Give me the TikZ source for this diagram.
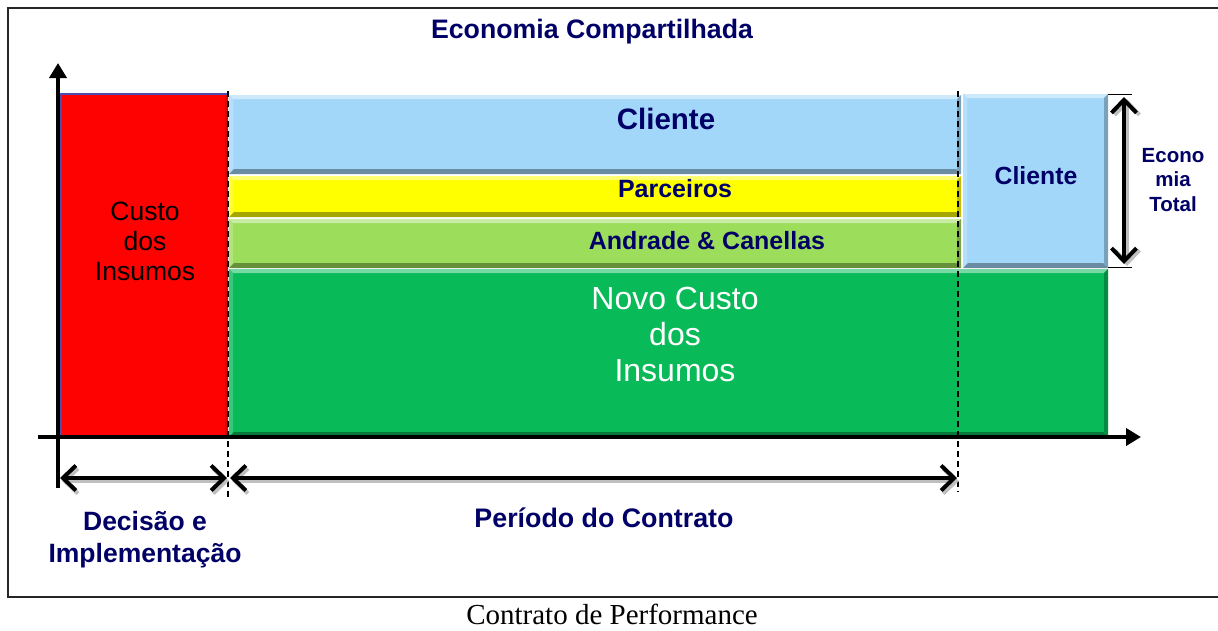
\documentclass[tikz,border=0pt]{standalone}
\usepackage{fontspec}
\setmainfont{Liberation Sans}
\newfontfamily\capserif{Liberation Serif}
\usetikzlibrary{arrows.meta,calc}
\definecolor{navy}{RGB}{0,0,102}
\definecolor{cred}{RGB}{254,2,2}
\definecolor{cblue}{RGB}{163,215,250}
\definecolor{cyellow}{RGB}{255,255,0}
\definecolor{clgreen}{RGB}{157,221,92}
\definecolor{cdgreen}{RGB}{8,186,88}
\newcommand\bevelbox[2]{%
  \fill[#2!55!white] (#1.north west) -- (#1.north east) -- ([shift={(-4,4)}]#1.north east) -- ([shift={(4,4)}]#1.north west) -- cycle;
  \fill[#2!65!black] (#1.south west) -- (#1.south east) -- ([shift={(-5,-5)}]#1.south east) -- ([shift={(5,-5)}]#1.south west) -- cycle;
  \fill[#2!80!white] (#1.north west) -- ([shift={(4,4)}]#1.north west) -- ([shift={(4,-5)}]#1.south west) -- (#1.south west) -- cycle;
  \fill[#2!75!black] (#1.north east) -- ([shift={(-4,4)}]#1.north east) -- ([shift={(-4,-5)}]#1.south east) -- (#1.south east) -- cycle;
}
\tikzset{
  bar/.style={rectangle, inner sep=0pt, outer sep=0pt, anchor=north west},
  blab/.style={text=navy, font=\bfseries\fontsize{#1}{#1}\selectfont, align=center, inner sep=0pt},
  blab/.default=25,
  barbs/.style={{Straight Barb[length=13pt,width=25pt]}-{Straight Barb[length=13pt,width=25pt]}},
  thickarrow/.style={line width=4pt, barbs},
  arrowshadow/.style={line width=4pt, barbs, draw=gray!50},
  dashline/.style={line width=1.4pt, dash pattern=on 6pt off 4pt},
}
\begin{document}
\begin{tikzpicture}[x=1pt,y=-1pt]
\useasboundingbox (0,0) rectangle (1218,630);
\fill[white] (0,0) rectangle (1218,630);
% frame
\draw[line width=2pt, black!85] (8,8) rectangle (1226,597);

% bars
\node[bar, fill=cred, minimum width=167, minimum height=343] (red) at (61,94) {};
\node[bar, fill=cblue, minimum width=732, minimum height=79] (cliTop) at (229,95) {};
\node[bar, fill=cyellow, minimum width=732, minimum height=41] (parc) at (229,176) {};
\node[bar, fill=clgreen, minimum width=732, minimum height=49] (andr) at (229,219) {};
\node[bar, fill=cdgreen, minimum width=879, minimum height=168] (novo) at (229,269) {};
\node[bar, fill=cblue, minimum width=145, minimum height=174] (cliRight) at (963,94) {};
\bevelbox{cliTop}{cblue}
\bevelbox{parc}{cyellow}
\bevelbox{andr}{clgreen}
\bevelbox{novo}{cdgreen}
\bevelbox{cliRight}{cblue}
\fill[cred!85!black] (red.north east) -- ([shift={(-3,3)}]red.north east) -- ([shift={(-3,0)}]red.south east) -- (red.south east) -- cycle;
\draw[line width=1.2pt, blue!40!gray] (red.south west) -- (red.north west) -- (red.north east);

% texts
\node[blab=26.7] (title) at (592,32) {Economia Compartilhada};
\node[blab=29.5] (tCliTop) at (666,119) {Cliente};
\node[blab=25] (tParc) at (675,189) {Parceiros};
\node[blab=25] (tAndr) at (707,241) {Andrade \& Canellas};
\node[blab=24.8] (tCliRight) at (1036,176) {Cliente};
\node[text=navy, font=\bfseries\fontsize{20.5}{24.5}\selectfont, align=center, inner sep=0pt] (tEco) at (1173,180) {Econo\\mia\\Total};
\node[text=black, font=\fontsize{26.5}{30}\selectfont, align=center, inner sep=0pt] (tCusto) at (145,241) {Custo\\dos\\Insumos};
\node[text=white, font=\fontsize{32}{36}\selectfont, align=center, inner sep=0pt] (tNovo) at (675,334) {Novo Custo\\dos\\Insumos};
\node[text=navy, font=\bfseries\fontsize{26.5}{32}\selectfont, align=center, inner sep=0pt] (tDec) at (145,540) {Decisão e\\Implementação};
\node[blab=26.8] (tPer) at (604,518) {Período do Contrato};
\node[font=\capserif\fontsize{29}{30}\selectfont, inner sep=0pt, anchor=base] (caption) at (612,624) {Contrato de Performance};

% coordinates
\coordinate (yBot) at (58,488);
\coordinate (yTop) at (58,63);
\coordinate (xL) at (38,437);
\coordinate (xR) at (1141,437);
\coordinate (dA) at (228,91);
\coordinate (dB) at (228,497);
\coordinate (dC) at (958,91);
\coordinate (dD) at (958,492);
\coordinate (aL) at (60,478);
\coordinate (aM) at (227,478);
\coordinate (aM2) at (230,478);
\coordinate (aR) at (957,478);
\coordinate (eTop) at (1124,97);
\coordinate (eBot) at (1124,264);
\coordinate (tk1a) at (1108,94);
\coordinate (tk1b) at (1132,94);
\coordinate (tk2a) at (1108,267);
\coordinate (tk2b) at (1132,267);

% axes
\draw[line width=4pt, -{Triangle[length=15pt,width=17pt]}] (yBot) -- (yTop);
\draw[line width=4pt, -{Triangle[length=15pt,width=17pt]}] (xL) -- (xR);

% dashed guides
\draw[dashline] (dA) -- (dB);
\draw[dashline] (dC) -- (dD);

% dimension arrows (with shadows)
\draw[arrowshadow] ([shift={(2,3)}]aL) -- ([shift={(2,3)}]aM);
\draw[arrowshadow] ([shift={(2,3)}]aM2) -- ([shift={(2,3)}]aR);
\draw[arrowshadow] ([shift={(3,2)}]eTop) -- ([shift={(3,2)}]eBot);
\draw[thickarrow] (aL) -- (aM);
\draw[thickarrow] (aM2) -- (aR);
\draw[line width=1pt] (tk1a) -- (tk1b);
\draw[line width=1pt] (tk2a) -- (tk2b);
\draw[thickarrow] (eTop) -- (eBot);
\end{tikzpicture}
\end{document}
